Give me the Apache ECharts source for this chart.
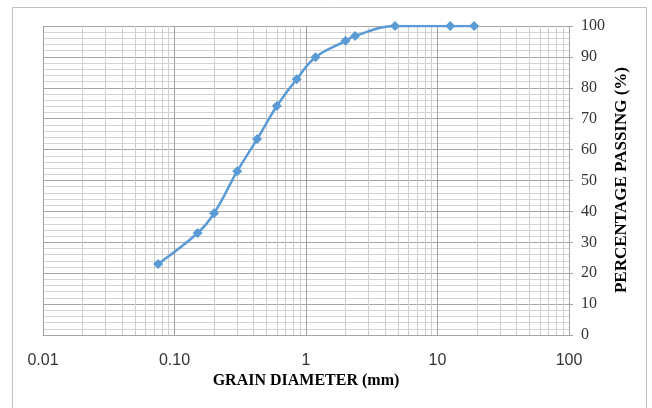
<!DOCTYPE html>
<html>
<head>
<meta charset="utf-8">
<script src="https://cdn.jsdelivr.net/npm/echarts@6/dist/echarts.min.js"></script>
<style>
html,body{margin:0;padding:0;background:#fff;}
#chart{width:652px;height:408px;}
</style>
</head>
<body>
<div id="chart"></div>
<script>
// Grain diameter (mm)
var grainSize = [0.075, 0.15, 0.2, 0.3, 0.425, 0.6, 0.85, 1.18, 2.0, 2.36, 4.75, 12.5, 19];
// Percentage passing (%)
var passing = [23.0, 33.0, 39.4, 53.0, 63.4, 74.1, 82.8, 89.9, 95.2, 96.8, 100, 100, 100];
// Tick labels of the log x axis
var xTickValues = [0.01, 0.1, 1, 10, 100];
var xTickLabels = ['0.01', '0.10', '1', '10', '100'];
var xTitle = 'GRAIN DIAMETER (mm)';
var yTitle = 'PERCENTAGE PASSING (%)';

var seriesData = grainSize.map(function (g, i) { return [g, passing[i]]; });

// minor log gridlines 2..9 within each decade
var minorX = [];
for (var d = 0; d < xTickValues.length - 1; d++) {
  for (var k = 2; k <= 9; k++) minorX.push({ xAxis: +(xTickValues[d] * k).toPrecision(6) });
}

var chart = echarts.init(document.getElementById('chart'));
chart.setOption({
  animation: false,
  backgroundColor: '#fff',
  grid: { left: 43, right: 83, top: 26, bottom: 73, containLabel: false },
  xAxis: {
    type: 'log',
    logBase: 10,
    min: 0.01,
    max: 100,
    axisLine: { show: true, lineStyle: { color: '#a6a6a6', width: 1 } },
    axisTick: { show: false },
    axisLabel: {
      margin: 18,
      fontFamily: 'Liberation Sans',
      fontSize: 16,
      color: '#333',
      formatter: function (v) {
        for (var i = 0; i < xTickValues.length; i++) {
          if (Math.abs(Math.log10(v) - Math.log10(xTickValues[i])) < 1e-6) return xTickLabels[i];
        }
        return '';
      }
    },
    splitLine: { show: true, lineStyle: { color: '#a0a0a0', width: 1 } },
    minorSplitLine: { show: false }
  },
  yAxis: {
    type: 'value',
    position: 'right',
    min: 0,
    max: 100,
    interval: 10,
    axisLine: { show: true, lineStyle: { color: '#a6a6a6', width: 1 } },
    axisTick: { show: true, inside: false, length: 4, lineStyle: { color: '#a6a6a6' } },
    axisLabel: {
      margin: 12,
      fontFamily: 'Liberation Serif',
      fontSize: 16,
      color: '#333'
    },
    splitLine: { show: true, lineStyle: { color: '#a6a6a6', width: 1 } },
    minorTick: { show: false, splitNumber: 5 },
    minorSplitLine: { show: true, lineStyle: { color: '#d4d4d4', width: 1 } }
  },
  graphic: [
    {
      type: 'rect', silent: true, z: -10,
      shape: { x: 12.5, y: 7.5, width: 634, height: 420 },
      style: { fill: 'none', stroke: '#bfbfbf', lineWidth: 1 }
    },
    {
      type: 'text', x: 306, y: 381,
      style: {
        text: xTitle, font: 'bold 16px "Liberation Serif"', fill: '#000',
        textAlign: 'center', textVerticalAlign: 'middle'
      }
    },
    {
      type: 'text', x: 622, y: 180, rotation: Math.PI / 2,
      style: {
        text: yTitle, font: 'bold 17px "Liberation Serif"', fill: '#000',
        textAlign: 'center', textVerticalAlign: 'middle'
      }
    }
  ],
  series: [
    {
      type: 'line',
      data: [],
      silent: true,
      z: 1,
      markLine: {
        silent: true,
        symbol: 'none',
        animation: false,
        label: { show: false },
        lineStyle: { color: '#cfcfcf', type: 'solid', width: 1 },
        data: minorX
      }
    },
    {
      type: 'line',
      data: seriesData,
      smooth: 0.4,
      clip: true,
      z: 5,
      symbol: 'diamond',
      symbolSize: 10,
      lineStyle: { color: '#5B9BD5', width: 2.5 },
      itemStyle: { color: '#5B9BD5' }
    }
  ]
});
</script>
</body>
</html>
